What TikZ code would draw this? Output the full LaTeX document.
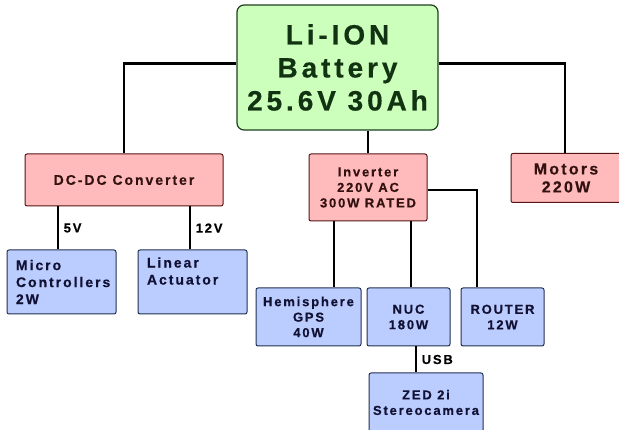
\documentclass[tikz,border=0pt]{standalone}
\usepackage{fontspec}
\setmainfont{Liberation Sans}[LetterSpace=14,BoldFeatures={FakeBold=0.4}]
\definecolor{battfill}{HTML}{CCFFBB}
\definecolor{battline}{HTML}{1F3F1F}
\definecolor{batttext}{HTML}{113311}
\definecolor{pinkfill}{HTML}{FFBBBB}
\definecolor{pinkline}{HTML}{551515}
\definecolor{pinktext}{HTML}{331111}
\definecolor{bluefill}{HTML}{BBCCFF}
\definecolor{blueline}{HTML}{22304F}
\definecolor{bluetext}{HTML}{111133}
\newcommand{\fs}[2]{\bfseries\fontsize{#1}{#2}\selectfont}
\tikzset{
  batt/.style={draw=battline,fill=battfill,text=batttext,line width=1.2pt,
    rounded corners=7pt,inner sep=0pt,align=center,font=\fs{28}{33}},
  power/.style={draw=pinkline,fill=pinkfill,text=pinktext,line width=1pt,
    rounded corners=2pt,inner sep=0pt,align=center},
  load/.style={draw=blueline,fill=bluefill,text=bluetext,line width=1pt,
    rounded corners=2pt,inner sep=0pt,align=center,font=\fs{13}{15.5}},
  leftload/.style={load,align=left,text width=91pt,inner xsep=9pt,font=\fs{14}{17}},
  wire/.style={line width=2.5pt},
  volt/.style={right,inner xsep=4.5pt,inner ysep=2pt,font=\fs{13}{15}}
}

\begin{document}
\begin{tikzpicture}[x=1pt,y=-1pt]
  \useasboundingbox (0,0) rectangle (619,430);
  \node[batt,minimum width=201pt,minimum height=125pt] (battery) at (337.5,67.5) {Li-ION\\Battery\\25.6V 30Ah};
  \node[power,minimum width=198pt,minimum height=52pt,font=\fs{14}{17}] (dcdc) at (124,180) {DC-DC Converter};
  \node[power,minimum width=118pt,minimum height=67pt,font=\fs{13}{15.5}] (inverter) at (368,187.5) {Inverter\\220V AC\\300W RATED};
  \node[power,minimum width=110pt,minimum height=49pt,font=\fs{16}{18}] (motors) at (566,178) {Motors\\220W};
  \node[leftload,minimum height=64pt] (micro) at (61.5,282) {Micro\\Controllers\\2W};
  \node[leftload,minimum height=64pt] (linear) at (192.5,282) {Linear\\Actuator\\\strut};
  \node[load,minimum width=105pt,minimum height=58pt] (gps) at (308.5,317) {Hemisphere\\GPS\\40W};
  \node[load,minimum width=83pt,minimum height=58pt] (nuc) at (408.5,317) {NUC\\180W};
  \node[load,minimum width=83pt,minimum height=58pt] (router) at (502.5,317) {ROUTER\\12W};
  \node[load,minimum width=114pt,minimum height=59pt] (zed) at (426,402.5) {ZED 2i\\Stereocamera};
  % power wiring
  \draw[wire] ([yshift=4pt]battery.west) -| (dcdc.north);
  \draw[wire] ([yshift=4pt]battery.east) -| ([xshift=-1pt]motors.north);
  \draw[wire] (inverter.north) -- (inverter.north |- battery.south);
  \draw[wire] ([xshift=-3.5pt]micro.north) -- ([xshift=-3.5pt]micro.north |- dcdc.south) node[volt,midway] {5V};
  \draw[wire] ([xshift=-2.5pt]linear.north) -- ([xshift=-2.5pt]linear.north |- dcdc.south) node[volt,midway] {12V};
  \draw[wire] ([xshift=-34pt]inverter.south) -- ([xshift=-34pt]inverter.south |- gps.north);
  \draw[wire] ([xshift=2.5pt]nuc.north) -- ([xshift=2.5pt]nuc.north |- inverter.south);
  \draw[wire] ([yshift=-2.5pt]inverter.east) -| ([xshift=-25.5pt]router.north);
  \draw[wire] ([xshift=7.5pt]nuc.south) -- ([xshift=7.5pt]nuc.south |- zed.north) node[volt,midway] {USB};
\end{tikzpicture}
\end{document}
